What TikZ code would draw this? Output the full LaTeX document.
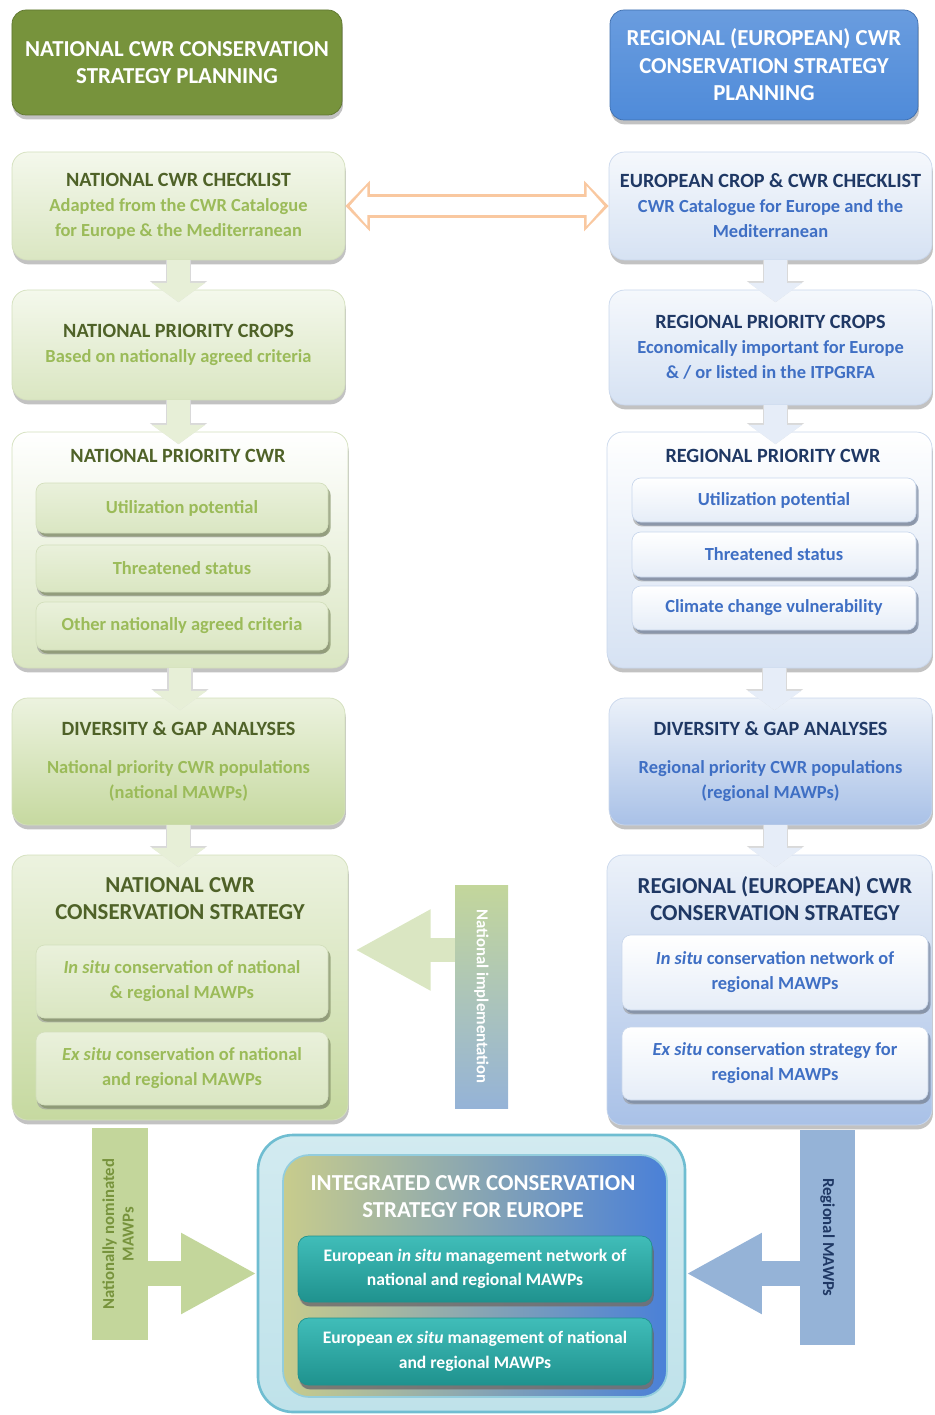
\documentclass[tikz,border=0pt]{standalone}
\usepackage{fontspec}
\usepackage{graphicx}
\setmainfont{Carlito}
\usetikzlibrary{arrows.meta,shadows}

\definecolor{natdark}{HTML}{4F6228}
\definecolor{natsub}{HTML}{9BBB59}
\definecolor{natlight}{HTML}{F4F8EC}
\definecolor{natmid}{HTML}{DAE6C2}
\definecolor{natdeep}{HTML}{C6D9A0}
\definecolor{natline}{HTML}{D3DFBC}
\definecolor{regdark}{HTML}{1F3864}
\definecolor{regsub}{HTML}{3F6FC4}
\definecolor{reglight}{HTML}{F5F8FC}
\definecolor{regmid}{HTML}{D6E2F3}
\definecolor{regdeep}{HTML}{A9C1E7}
\definecolor{regline}{HTML}{C9D7EC}
\definecolor{hdrgreen}{HTML}{77933C}
\definecolor{hdrblue}{HTML}{4F8BD9}
\definecolor{peach}{HTML}{F9C8A0}
\definecolor{barblue}{HTML}{95B3D7}
\definecolor{bargreen}{HTML}{C3D69B}
\definecolor{tealtop}{HTML}{40BDB9}
\definecolor{tealbot}{HTML}{1F928E}
\definecolor{tealline}{HTML}{4BACC6}
\definecolor{integleft}{HTML}{C8CC8C}
\definecolor{integmid}{HTML}{9DB6BC}
\definecolor{integright}{HTML}{4A80D8}
\definecolor{integband}{HTML}{BFE2EA}

\newcommand{\natttl}[1]{{\color{natdark}\fontsize{11.5}{14.2}\selectfont #1}}
\newcommand{\regttl}[1]{{\color{regdark}\fontsize{11.5}{14.2}\selectfont #1}}

\begin{document}
\begin{tikzpicture}[
		box/.style={rounded corners=9pt, align=center, inner sep=2pt,
			font=\fontsize{10.5}{14.2}\selectfont\bfseries,
			drop shadow={shadow xshift=0.5pt, shadow yshift=-2.5pt, fill=black!40, opacity=0.6}},
		nbox/.style={box, draw=natline, top color=natlight, bottom color=natmid, text=natsub},
		nboxd/.style={nbox, top color=natlight!70!natmid, bottom color=natdeep},
		rbox/.style={box, draw=regline, top color=reglight, bottom color=regmid, text=regsub},
		rboxd/.style={rbox, top color=reglight!70!regmid, bottom color=regdeep},
		ninner/.style={nbox, rounded corners=5pt, top color=natlight!60!natmid, bottom color=natmid,
			drop shadow={shadow xshift=1.5pt, shadow yshift=-2pt, fill=natdark!70, opacity=0.7}},
		rinner/.style={rbox, rounded corners=5pt, top color=white, bottom color=reglight!50!regmid,
			drop shadow={shadow xshift=1.5pt, shadow yshift=-2pt, fill=regdark!60, opacity=0.7}},
		ttl/.style={align=center, font=\fontsize{11.5}{14.2}\selectfont\bfseries},
		bigttl/.style={align=center, font=\fontsize{13}{15.4}\selectfont\bfseries},
		hdr/.style={box, rounded corners=8pt, text=white, font=\fontsize{13}{15.6}\selectfont\bfseries},
		bar/.style={inner sep=0pt, font=\fontsize{9.5}{11}\selectfont\bfseries},
		teal/.style={box, rounded corners=6pt, draw=tealbot, top color=tealtop, bottom color=tealbot, text=white,
			font=\fontsize{10}{14}\selectfont\bfseries,
			drop shadow={shadow xshift=1pt, shadow yshift=-2.5pt, fill=black!60, opacity=0.7}},
		narrow/.style={line width=13pt, -{Triangle[width=30pt,length=11pt]},
			preaction={draw=gray!30, line width=14.5pt, -{Triangle[width=32pt,length=12pt]}}},
		sidearrow/.style={line width=14pt, -{Triangle[width=43pt,length=43pt]}},
		dblarrow/.style={line width=14pt, draw=peach, {Triangle[width=28pt,length=14pt]}-{Triangle[width=28pt,length=14pt]},
			postaction={draw=white, line width=10pt, shorten >=2.5pt, shorten <=2.5pt,
				{Triangle[width=22pt,length=10pt]}-{Triangle[width=22pt,length=10pt]}}}
	]
	\useasboundingbox (0,0) rectangle (18.68,-28.30);
	
	% headers
	\node[hdr, draw=hdrgreen!80!black, fill=hdrgreen, minimum width=6.60cm, minimum height=2.10cm] (hdrN) at (3.54,-1.25)
		{NATIONAL CWR CONSERVATION\\STRATEGY PLANNING};
	\node[hdr, draw=hdrblue!80!black, top color=hdrblue!85!white, bottom color=hdrblue, minimum width=6.16cm, minimum height=2.20cm] (hdrR) at (15.28,-1.30)
		{REGIONAL (EUROPEAN) CWR\\CONSERVATION STRATEGY\\PLANNING};
	
	% checklists
	\node[nbox, minimum width=6.66cm, minimum height=2.16cm] (chkN) at (3.57,-4.12)
		{\natttl{NATIONAL CWR CHECKLIST}\\Adapted from the CWR Catalogue\\for Europe \& the Mediterranean};
	\node[rbox, minimum width=6.46cm, minimum height=2.16cm] (chkR) at (15.41,-4.12)
		{\regttl{EUROPEAN CROP \& CWR CHECKLIST}\\CWR Catalogue for Europe and the\\Mediterranean};
	
	% priority crops
	\node[nbox, minimum width=6.66cm, minimum height=2.20cm] (crpN) at (3.57,-6.90)
		{\natttl{NATIONAL PRIORITY CROPS}\\Based on nationally agreed criteria};
	\node[rbox, minimum width=6.46cm, minimum height=2.30cm] (crpR) at (15.41,-6.95)
		{\regttl{REGIONAL PRIORITY CROPS}\\Economically important for Europe\\\& / or listed in the ITPGRFA};
	
	% priority cwr
	\node[nbox, top color=white, minimum width=6.72cm, minimum height=4.72cm] (pcwN) at (3.60,-11.00) {};
	\node[ttl, text=natdark] (pcwNt) at (3.56,-9.12) {NATIONAL PRIORITY CWR};
	\node[ninner, minimum width=5.84cm, minimum height=1.00cm] (utilN) at (3.64,-10.16) {Utilization potential};
	\node[ninner, minimum width=5.84cm, minimum height=0.94cm] (thrN) at (3.64,-11.37) {Threatened status};
	\node[ninner, minimum width=5.84cm, minimum height=0.96cm] (othN) at (3.64,-12.52) {Other nationally agreed criteria};
	
	\node[rbox, top color=white, minimum width=6.50cm, minimum height=4.72cm] (pcwR) at (15.39,-11.00) {};
	\node[ttl, text=regdark] (pcwRt) at (15.46,-9.12) {REGIONAL PRIORITY CWR};
	\node[rinner, minimum width=5.68cm, minimum height=0.88cm] (utilR) at (15.48,-10.00) {Utilization potential};
	\node[rinner, minimum width=5.68cm, minimum height=0.90cm] (thrR) at (15.48,-11.09) {Threatened status};
	\node[rinner, minimum width=5.68cm, minimum height=0.88cm] (cliR) at (15.48,-12.16) {Climate change vulnerability};
	
	% diversity and gap analyses
	\node[nboxd, minimum width=6.66cm, minimum height=2.54cm] (divN) at (3.57,-15.23)
		{\natttl{DIVERSITY \& GAP ANALYSES}\\[7pt]National priority CWR populations\\(national MAWPs)};
	\node[rboxd, minimum width=6.46cm, minimum height=2.54cm] (divR) at (15.41,-15.23)
		{\regttl{DIVERSITY \& GAP ANALYSES}\\[7pt]Regional priority CWR populations\\(regional MAWPs)};
	
	% conservation strategies
	\node[nboxd, minimum width=6.72cm, minimum height=5.30cm] (strN) at (3.60,-19.75) {};
	\node[bigttl, text=natdark] (strNt) at (3.60,-17.97) {NATIONAL CWR\\CONSERVATION STRATEGY};
	\node[ninner, minimum width=5.84cm, minimum height=1.46cm] (insN) at (3.64,-19.63)
		{\textit{In situ} conservation of national\\\& regional MAWPs};
	\node[ninner, minimum width=5.84cm, minimum height=1.46cm] (exsN) at (3.64,-21.37)
		{\textit{Ex situ} conservation of national\\and regional MAWPs};
	
	\node[rboxd, minimum width=6.50cm, minimum height=5.40cm] (strR) at (15.39,-19.80) {};
	\node[bigttl, text=regdark] (strRt) at (15.50,-17.97) {REGIONAL (EUROPEAN) CWR\\CONSERVATION STRATEGY};
	\node[rinner, minimum width=6.12cm, minimum height=1.50cm] (insR) at (15.50,-19.45)
		{\textit{In situ} conservation network of\\regional MAWPs};
	\node[rinner, minimum width=6.12cm, minimum height=1.46cm] (exsR) at (15.50,-21.27)
		{\textit{Ex situ} conservation strategy for\\regional MAWPs};
	
	% side bars
	\node[bar, top color=bargreen, bottom color=barblue, text=white, minimum width=1.06cm, minimum height=4.46cm] (nimp) at (9.63,-19.93)
		{\rotatebox{-90}{National implementation}};
	\node[bar, fill=bargreen, text=hdrgreen, minimum width=1.12cm, minimum height=4.24cm] (nnom) at (2.40,-24.68)
		{\rotatebox{90}{\begin{tabular}{@{}c@{}}Nationally nominated\\MAWPs\end{tabular}}};
	\node[bar, fill=barblue, text=regdark, minimum width=1.10cm, minimum height=4.30cm] (rmaw) at (16.55,-24.75)
		{\rotatebox{-90}{Regional MAWPs}};
	
	% integrated strategy
	\node[rounded corners=20pt, draw=tealline!80, line width=1.5pt, top color=integband!70, bottom color=integband,
		minimum width=8.54cm, minimum height=5.54cm] (integ) at (9.43,-25.47) {};
	\node[rounded corners=15pt, draw=tealline!60, line width=1pt, left color=integleft, middle color=integmid, right color=integright,
		minimum width=7.68cm, minimum height=4.84cm] (integIn) at (9.50,-25.52) {};
	\node[bigttl, text=white] (integT) at (9.46,-23.93) {INTEGRATED CWR CONSERVATION\\STRATEGY FOR EUROPE};
	\node[teal, minimum width=7.08cm, minimum height=1.32cm] (eurIn) at (9.50,-25.38)
		{European \textit{in situ} management network of\\national and regional MAWPs};
	\node[teal, minimum width=7.08cm, minimum height=1.34cm] (eurEx) at (9.50,-27.03)
		{European \textit{ex situ} management of national\\and regional MAWPs};
	
	% flow arrows
	\foreach \a/\b in {chkN/crpN, crpN/pcwN, pcwN/divN, divN/strN}
		\draw[narrow, draw=natlight!50!natmid] (\a.south) -- ([yshift=-0.25cm]\a.south |- \b.north);
	\foreach \a/\b in {chkR/crpR, crpR/pcwR, pcwR/divR, divR/strR}
		\draw[narrow, draw=reglight!50!regmid] ([xshift=0.1cm]\a.south) -- ([xshift=0.1cm, yshift=-0.25cm]\a.south |- \b.north);
	
	\draw[dblarrow] (chkN.east) -- (chkR.west);
	
	\coordinate (nimpTip) at (7.10,-19.00);
	\draw[sidearrow, draw=natmid] (nimp.west |- nimpTip) -- (nimpTip);
	\draw[sidearrow, draw=bargreen] (nnom.east |- integ.west) -- (integ.west);
	\draw[sidearrow, draw=barblue] (rmaw.west |- integ.east) -- (integ.east);
	
\end{tikzpicture}
\end{document}
